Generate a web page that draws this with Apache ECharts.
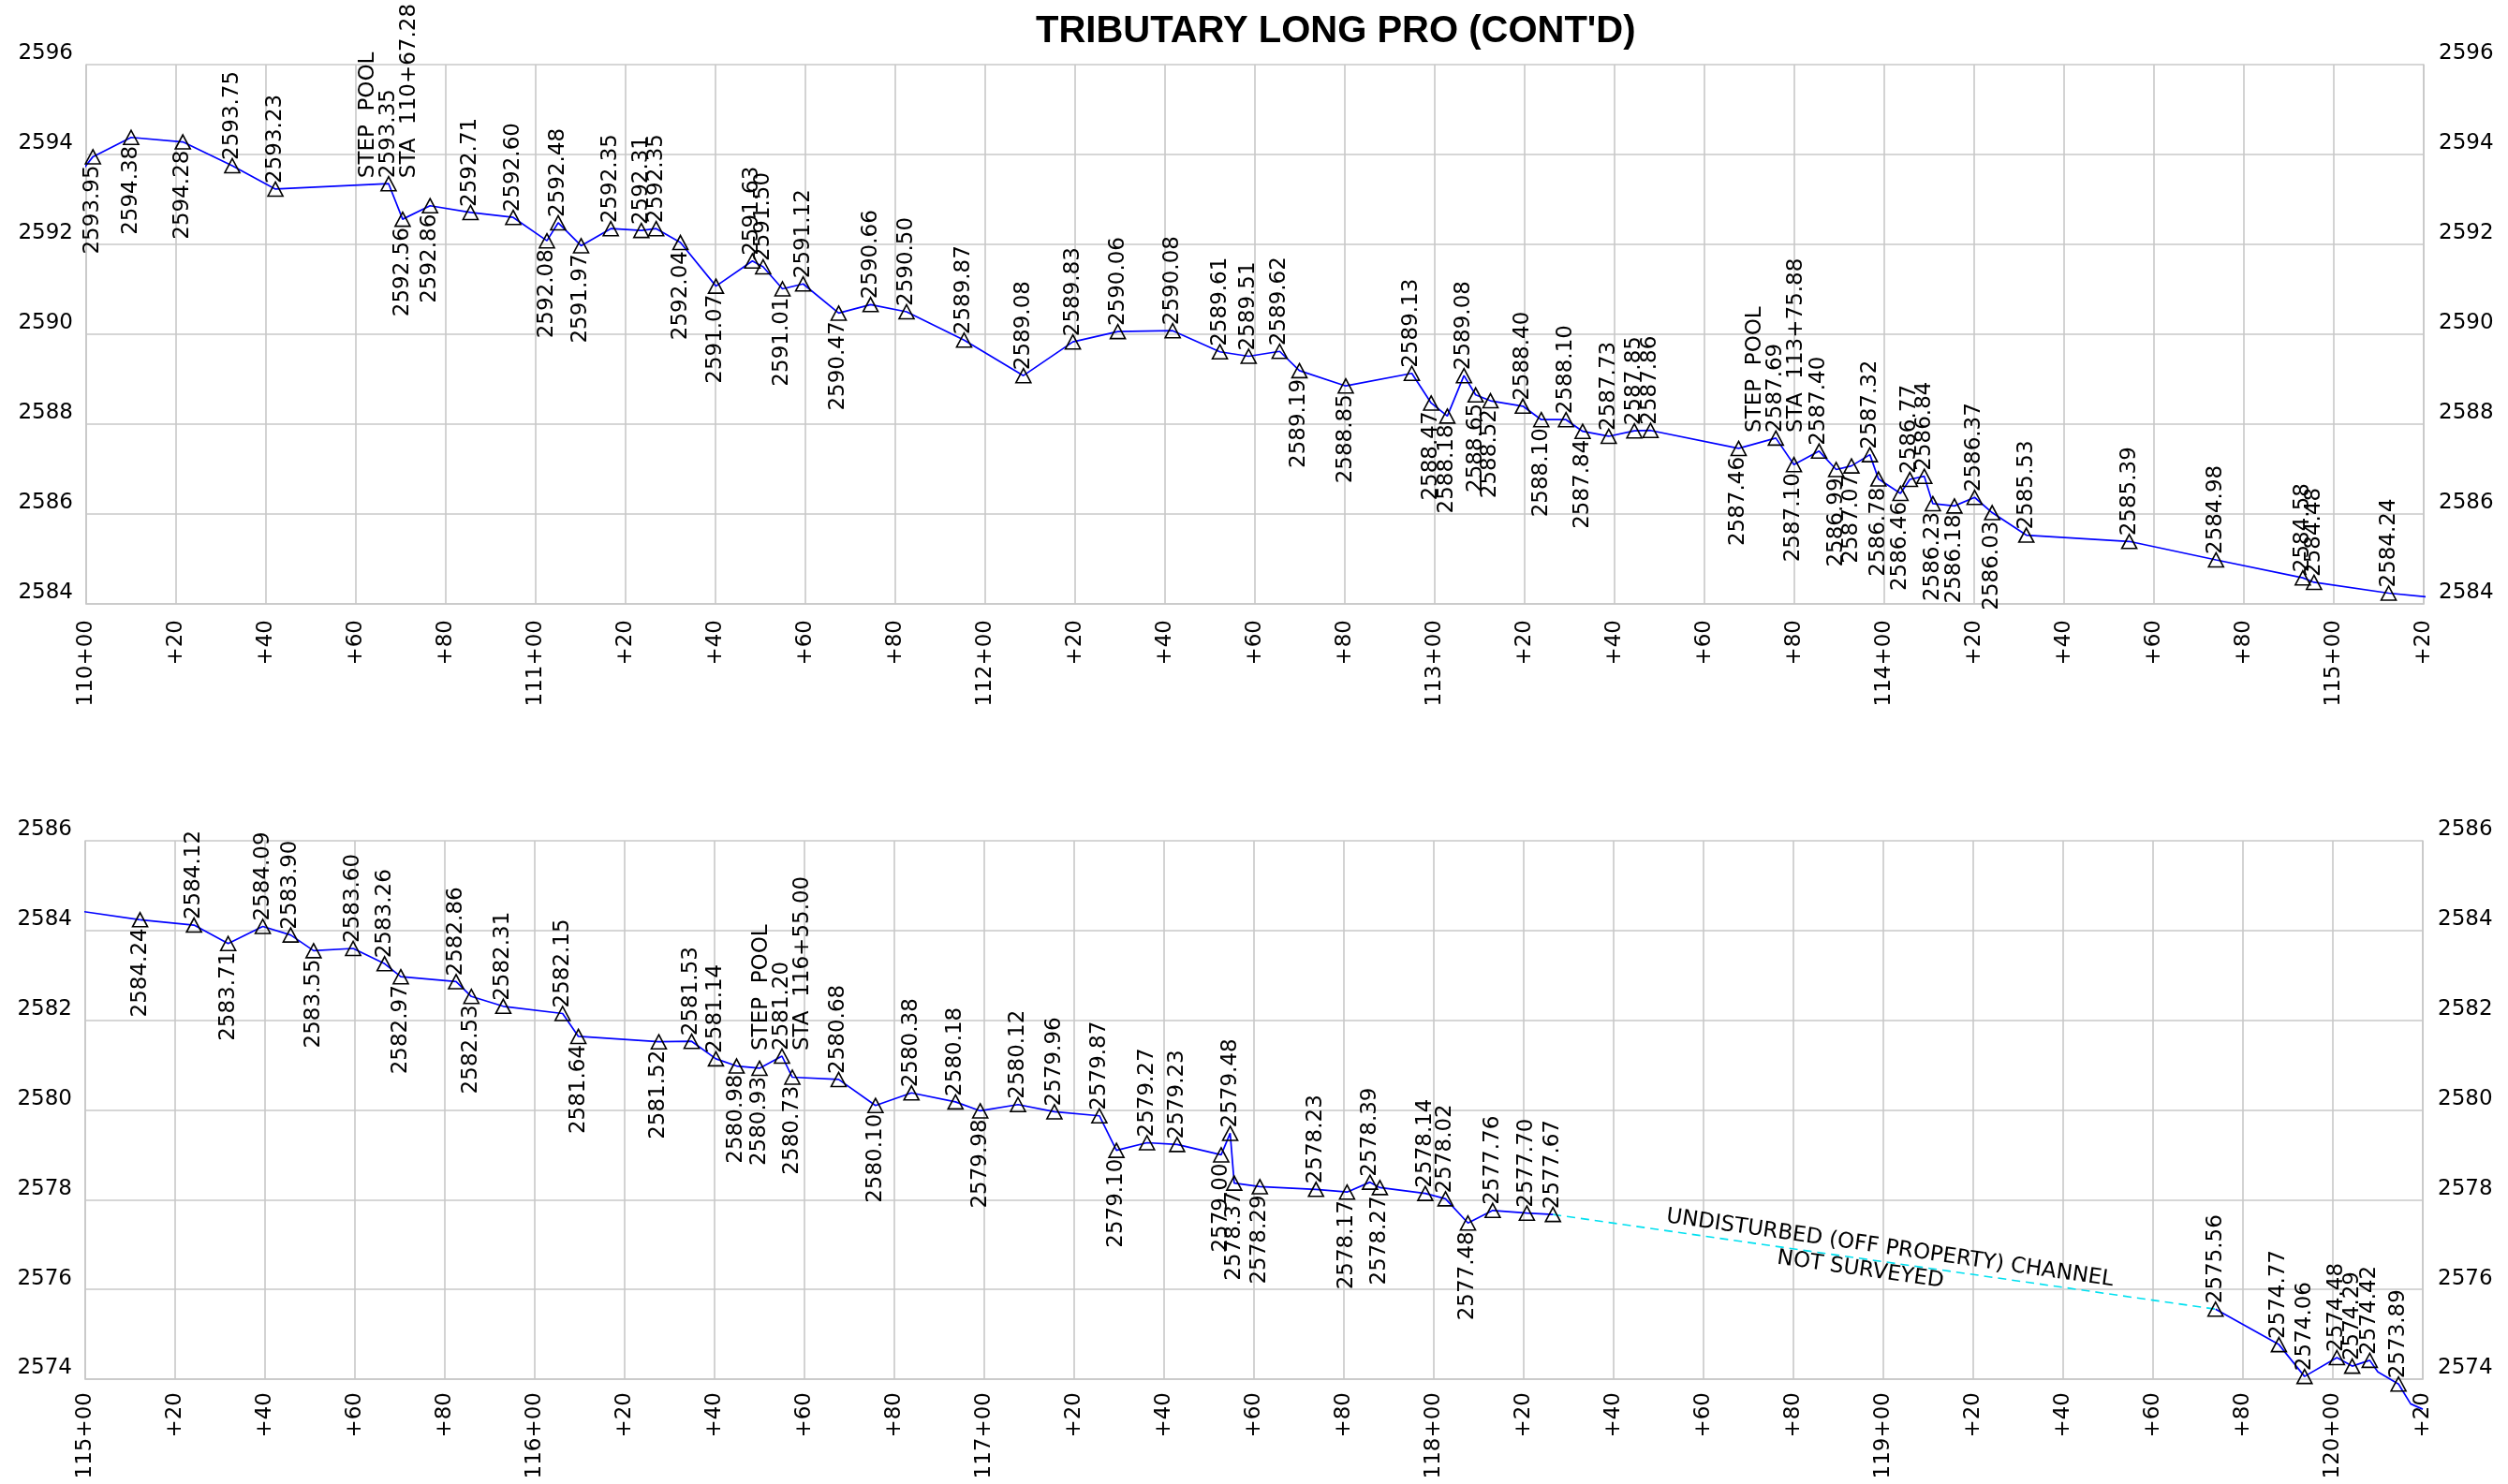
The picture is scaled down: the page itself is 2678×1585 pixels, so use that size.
<!DOCTYPE html>
<html>
<head>
<meta charset="utf-8">
<script src="https://cdn.jsdelivr.net/npm/echarts@6/dist/echarts.min.js"></script>
<style>
html,body{margin:0;padding:0;background:#fff;}
#chart{width:2678px;height:1585px;}
</style>
</head>
<body>
<div id="chart"></div>
<script>
const TITLE = "TRIBUTARY LONG PRO (CONT'D)";

// Upper sheet: 110+00 to 115+20. Stations in feet, thalweg elevations in feet.
const upperStations = [10998.5, 11001.5, 11010.0, 11021.5, 11032.5, 11042.1, 11067.28, 11070.4, 11076.5, 11085.5,
  11095.0, 11102.5, 11105.0, 11110.1, 11116.7, 11123.5, 11126.8, 11132.2, 11140.1, 11148.2,
  11150.6, 11154.9, 11159.5, 11167.4, 11174.5, 11182.5, 11195.3, 11208.5, 11219.5, 11229.5,
  11241.7, 11252.2, 11258.6, 11265.5, 11269.9, 11280.2, 11294.9, 11299.2, 11302.8, 11306.5,
  11309.1, 11312.4, 11319.6, 11323.7, 11329.2, 11332.9, 11338.7, 11344.4, 11348.0, 11367.6,
  11375.88, 11379.9, 11385.5, 11389.3, 11392.7, 11396.8, 11398.7, 11403.6, 11405.7, 11408.9,
  11410.8, 11415.6, 11420.1, 11424.0, 11431.6, 11454.5, 11473.8, 11493.1, 11495.6, 11512.2,
  11524.2];
const upperElevations = [2593.57, 2593.95, 2594.38, 2594.28, 2593.75, 2593.23, 2593.35, 2592.56, 2592.86, 2592.71,
  2592.60, 2592.08, 2592.48, 2591.97, 2592.35, 2592.31, 2592.35, 2592.04, 2591.07, 2591.63,
  2591.50, 2591.01, 2591.12, 2590.47, 2590.66, 2590.50, 2589.87, 2589.08, 2589.83, 2590.06,
  2590.08, 2589.61, 2589.51, 2589.62, 2589.19, 2588.85, 2589.13, 2588.47, 2588.18, 2589.08,
  2588.65, 2588.52, 2588.40, 2588.10, 2588.10, 2587.84, 2587.73, 2587.85, 2587.86, 2587.46,
  2587.69, 2587.10, 2587.40, 2586.99, 2587.07, 2587.32, 2586.78, 2586.46, 2586.77, 2586.84,
  2586.23, 2586.18, 2586.37, 2586.03, 2585.53, 2585.39, 2584.98, 2584.58, 2584.48, 2584.24,
  2584.12];
// Label side per shot: A = label above, B = label below, '' = no shot marker (off-sheet / bend only)
const upperLabelSides = ['', 'B', 'B', 'B', 'A', 'A', 'A', 'B', 'B', 'A',
  'A', 'B', 'A', 'B', 'A', 'A', 'A', 'B', 'B', 'A',
  'A', 'B', 'A', 'B', 'A', 'A', 'A', 'A', 'A', 'A',
  'A', 'A', 'A', 'A', 'B', 'B', 'A', 'B', 'B', 'A',
  'B', 'B', 'A', 'B', 'A', 'B', 'A', 'A', 'A', 'B',
  'A', 'B', 'A', 'B', 'B', 'A', 'B', 'B', 'A', 'A',
  'B', 'B', 'A', 'B', 'A', 'A', 'A', 'A', 'A', 'A',
  ''];

// Lower sheet: 115+00 to 120+20
const lowerStations = [11495.6, 11512.2, 11524.2, 11531.8, 11539.5, 11545.7, 11550.8, 11559.6, 11566.6, 11570.2,
  11582.5, 11585.9, 11593.0, 11606.2, 11609.7, 11627.6, 11634.9, 11640.3, 11644.9, 11650.0,
  11655.0, 11657.3, 11667.6, 11675.8, 11683.8, 11693.6, 11699.1, 11707.5, 11715.6, 11725.6,
  11729.4, 11736.2, 11742.9, 11752.7, 11754.7, 11755.6, 11761.3, 11773.8, 11780.7, 11785.8,
  11788.0, 11798.1, 11802.6, 11807.6, 11813.1, 11820.7, 11826.5, 11973.9, 11988.0, 11993.7,
  12000.9, 12004.3, 12008.2, 12010.0, 12014.6, 12017.3, 12020.0];
const lowerElevations = [2584.48, 2584.24, 2584.12, 2583.71, 2584.09, 2583.90, 2583.55, 2583.60, 2583.26, 2582.97,
  2582.86, 2582.53, 2582.31, 2582.15, 2581.64, 2581.52, 2581.53, 2581.14, 2580.98, 2580.93,
  2581.20, 2580.73, 2580.68, 2580.10, 2580.38, 2580.18, 2579.98, 2580.12, 2579.96, 2579.87,
  2579.10, 2579.27, 2579.23, 2579.00, 2579.48, 2578.37, 2578.29, 2578.23, 2578.17, 2578.39,
  2578.27, 2578.14, 2578.02, 2577.48, 2577.76, 2577.70, 2577.67, 2575.56, 2574.77, 2574.06,
  2574.48, 2574.29, 2574.42, 2574.16, 2573.89, 2573.45, 2573.33];
const lowerLabelSides = ['', 'B', 'A', 'B', 'A', 'A', 'B', 'A', 'A', 'B',
  'A', 'B', 'A', 'A', 'B', 'B', 'A', 'A', 'B', 'B',
  'A', 'B', 'A', 'B', 'A', 'A', 'B', 'A', 'A', 'A',
  'B', 'A', 'A', 'B', 'A', 'B', 'B', 'A', 'B', 'A',
  'B', 'A', 'A', 'B', 'A', 'A', 'A', 'A', 'A', 'A',
  'A', 'A', 'A', '', 'A', '', ''];

// Step pool shots (station)
const stepPools = [11067.28, 11375.88, 11655.00];
// Off-property reach that was not surveyed (between these two shots)
const notSurveyed = [11826.5, 11973.9];
const notSurveyedNote = ['UNDISTURBED (OFF PROPERTY) CHANNEL', 'NOT SURVEYED'];

// Axes
const upperStationRange = [11000, 11520];
const lowerStationRange = [11500, 12020];
const upperElevRange = [2584, 2596];
const lowerElevRange = [2574, 2586];
const stationStep = 20;
const elevStep = 2;

// ---------------------------------------------------------------
const FONT = 'DejaVu Sans';
const GRID_COLOR = '#c8c8c8';

function fmtSta(s) {
  const whole = Math.floor(s / 100);
  const rest = (s - whole * 100).toFixed(2).padStart(5, '0');
  return whole + '+' + rest;
}
function axisSta(v) {
  const r = Math.round(v) % 100;
  return r === 0 ? (Math.round(v) / 100) + '+00' : '+' + r;
}
function labelFor(side, elev, sta) {
  const sp = stepPools.find(s => Math.abs(s - sta) < 0.01);
  const text = sp !== undefined
    ? ['STEP  POOL', elev.toFixed(2), 'STA  ' + fmtSta(sp)].join('\n')
    : elev.toFixed(2);
  return {
    show: true,
    formatter: text,
    position: 'inside',
    rotate: 90,
    align: side === 'A' ? 'left' : 'right',
    verticalAlign: 'middle',
    offset: side === 'A' ? [6, 0] : [-9, 0],
    color: '#000',
    fontFamily: FONT,
    fontSize: 23,
    lineHeight: 22
  };
}
function items(stations, elevs, sides, from, to) {
  const out = [];
  for (let i = from; i <= to; i++) {
    const side = sides[i];
    if (side === 'A' || side === 'B') {
      out.push({ value: [stations[i], elevs[i]], symbol: 'triangle', label: labelFor(side, elevs[i], stations[i]) });
    } else {
      out.push({ value: [stations[i], elevs[i]], symbol: 'none', label: { show: false } });
    }
  }
  return out;
}

const lineStyle = { color: '#0000ff', width: 1.7 };
const markStyle = { color: 'rgba(0,0,0,0)', borderColor: '#000', borderWidth: 1.6 };
function profileSeries(data, xi, yi, clip) {
  return {
    type: 'line', xAxisIndex: xi, yAxisIndex: yi, data: data, clip: clip,
    symbol: 'triangle', symbolSize: [16, 15], showAllSymbol: true,
    lineStyle: lineStyle, itemStyle: markStyle, z: 3,
    emphasis: { disabled: true }, silent: true
  };
}

// upper sheet series
const upperData = items(upperStations, upperElevations, upperLabelSides, 0, upperStations.length - 1);

// lower sheet pieces
const firstIn = lowerStations.findIndex(s => s >= lowerStationRange[0]);
const gapA = lowerStations.indexOf(notSurveyed[0]);
const gapB = lowerStations.indexOf(notSurveyed[1]);
const leadIn = [[lowerStations[firstIn - 1], lowerElevations[firstIn - 1]], [lowerStations[firstIn], lowerElevations[firstIn]]];
const lowerA = items(lowerStations, lowerElevations, lowerLabelSides, firstIn, gapA);
const lowerB = items(lowerStations, lowerElevations, lowerLabelSides, gapB, lowerStations.length - 1);
const gapData = [[lowerStations[gapA], lowerElevations[gapA]], [lowerStations[gapB], lowerElevations[gapB]]];

function xAxis(gi, range, margin) {
  return {
    type: 'value', gridIndex: gi, min: range[0], max: range[1], interval: stationStep,
    axisLine: { show: true, lineStyle: { color: GRID_COLOR, width: 1.6 } },
    axisTick: { show: false },
    splitLine: { show: true, lineStyle: { color: GRID_COLOR, width: 1.6 } },
    axisLabel: { rotate: 90, margin: margin, color: '#000', fontFamily: FONT, fontSize: 23, formatter: axisSta }
  };
}
function yAxis(gi, range, pos) {
  return {
    type: 'value', gridIndex: gi, position: pos, min: range[0], max: range[1], interval: elevStep,
    axisLine: { show: true, onZero: false, lineStyle: { color: GRID_COLOR, width: 1.6 } },
    axisTick: { show: false },
    splitLine: { show: pos === 'left', lineStyle: { color: GRID_COLOR, width: 1.6 } },
    axisLabel: {
      margin: pos === 'left' ? 14 : 16, color: '#000', fontFamily: FONT, fontSize: 23,
      verticalAlign: 'bottom', lineHeight: 23, formatter: v => String(v)
    }
  };
}

const chart = echarts.init(document.getElementById('chart'), null, { renderer: 'canvas' });
chart.setOption({
  animation: false,
  backgroundColor: '#fff',
  title: {
    text: TITLE, left: 1101, top: 9,
    textStyle: { fontFamily: 'Liberation Sans', fontSize: 40, fontWeight: 'bold', color: '#000' }
  },
  grid: [
    { left: 92, top: 69, width: 2496, height: 576 },
    { left: 91, top: 898, width: 2496, height: 575 }
  ],
  xAxis: [xAxis(0, upperStationRange, 17), xAxis(1, lowerStationRange, 14)],
  yAxis: [yAxis(0, upperElevRange, 'left'), yAxis(0, upperElevRange, 'right'),
          yAxis(1, lowerElevRange, 'left'), yAxis(1, lowerElevRange, 'right')],
  series: [
    profileSeries(upperData, 0, 0, true),
    { type: 'line', xAxisIndex: 1, yAxisIndex: 2, data: leadIn, clip: true, symbol: 'none',
      lineStyle: lineStyle, silent: true, z: 3 },
    profileSeries(lowerA, 1, 2, false),
    { type: 'line', xAxisIndex: 1, yAxisIndex: 2, data: gapData, clip: false, symbol: 'none',
      lineStyle: { color: '#00e0f0', width: 1.6, type: [9, 6] }, silent: true, z: 2 },
    profileSeries(lowerB, 1, 2, false)
  ]
});

// Note along the un-surveyed reach, placed from the segment's own data coordinates
const p1 = chart.convertToPixel({ seriesIndex: 3 }, gapData[0]);
const p2 = chart.convertToPixel({ seriesIndex: 3 }, gapData[1]);
const ang = Math.atan2(p2[1] - p1[1], p2[0] - p1[0]);
const mid = [(p1[0] + p2[0]) / 2, (p1[1] + p2[1]) / 2];
const u = [Math.cos(ang), Math.sin(ang)];
const n = [Math.sin(ang), -Math.cos(ang)];
function at(along, normal) {
  return [mid[0] + u[0] * along + n[0] * normal, mid[1] + u[1] * along + n[1] * normal];
}
const t1 = at(4, 15), t2 = at(-24, -12);
chart.setOption({
  graphic: [
    { type: 'text', x: t1[0], y: t1[1], rotation: -ang, z: 10,
      style: { text: notSurveyedNote[0], align: 'center', verticalAlign: 'middle', fill: '#000', font: '23px "DejaVu Sans"' } },
    { type: 'text', x: t2[0], y: t2[1], rotation: -ang, z: 10,
      style: { text: notSurveyedNote[1], align: 'center', verticalAlign: 'middle', fill: '#000', font: '23px "DejaVu Sans"' } }
  ]
});
</script>
</body>
</html>
